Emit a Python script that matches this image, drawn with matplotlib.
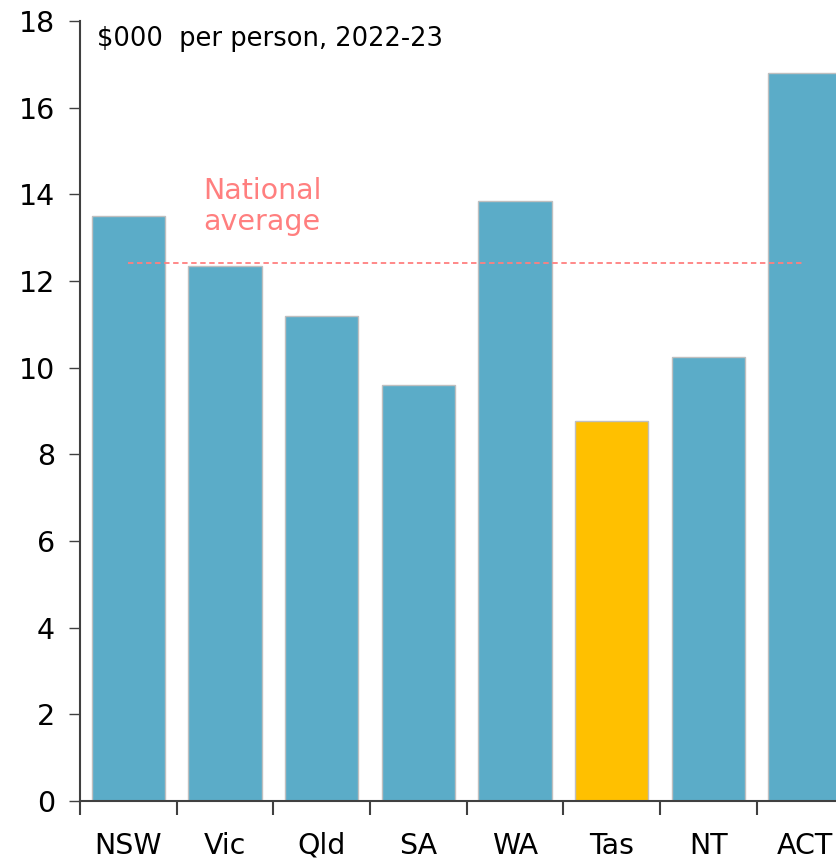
import matplotlib.pyplot as plt

states = ['NSW', 'Vic', 'Qld', 'SA', 'WA', 'Tas', 'NT', 'ACT']
values = [13.5, 12.35, 11.2, 9.6, 13.85, 8.78, 10.25, 16.8]
national_avg = 12.42
highlight = 'Tas'

blue = '#5BACC8'
gold = '#FFC000'
avg_col = '#FF7F7F'
axis_col = '#404040'

plt.rcParams['font.family'] = ['DejaVu Sans']

fig = plt.figure(figsize=(8.37, 8.59), dpi=100)
ax = fig.add_axes([0.0956, 0.0675, 0.924, 0.908])

x = list(range(len(states)))
colors = [gold if s == highlight else blue for s in states]
ax.bar(x, values, width=0.76, color=colors, edgecolor='#BFBFBF', linewidth=1, zorder=2)

ax.plot([0, 7], [national_avg, national_avg], color=avg_col, linestyle=(0, (3, 2)),
	linewidth=1.3, zorder=3)
ax.text(0.77, 13.72, 'National\naverage', color=avg_col, fontsize=20.5,
	ha='left', va='center', linespacing=1.15)

ax.text(0.022, 0.977, '$000  per person, 2022-23', transform=ax.transAxes,
	fontsize=18.5, ha='left', va='center')

ax.set_xlim(-0.5, 7.5)
ax.set_ylim(0, 18)
ax.set_yticks(range(0, 19, 2))
ax.tick_params(axis='y', labelsize=20.5, direction='out', length=8, width=1,
	color=axis_col, pad=10)

# category labels centred, ticks on boundaries
ax.set_xticks(x)
ax.set_xticklabels(states, fontsize=20.5)
ax.tick_params(axis='x', length=0, pad=22)
ax.set_xticks([i + 0.5 for i in range(-1, 7)], minor=True)
ax.tick_params(axis='x', which='minor', length=10, width=1.5, color=axis_col, direction='out')

for side in ['top', 'right']:
	ax.spines[side].set_visible(False)
for side in ['left', 'bottom']:
	ax.spines[side].set_color(axis_col)
	ax.spines[side].set_linewidth(1.5)

fig.savefig('out.png', dpi=100)
